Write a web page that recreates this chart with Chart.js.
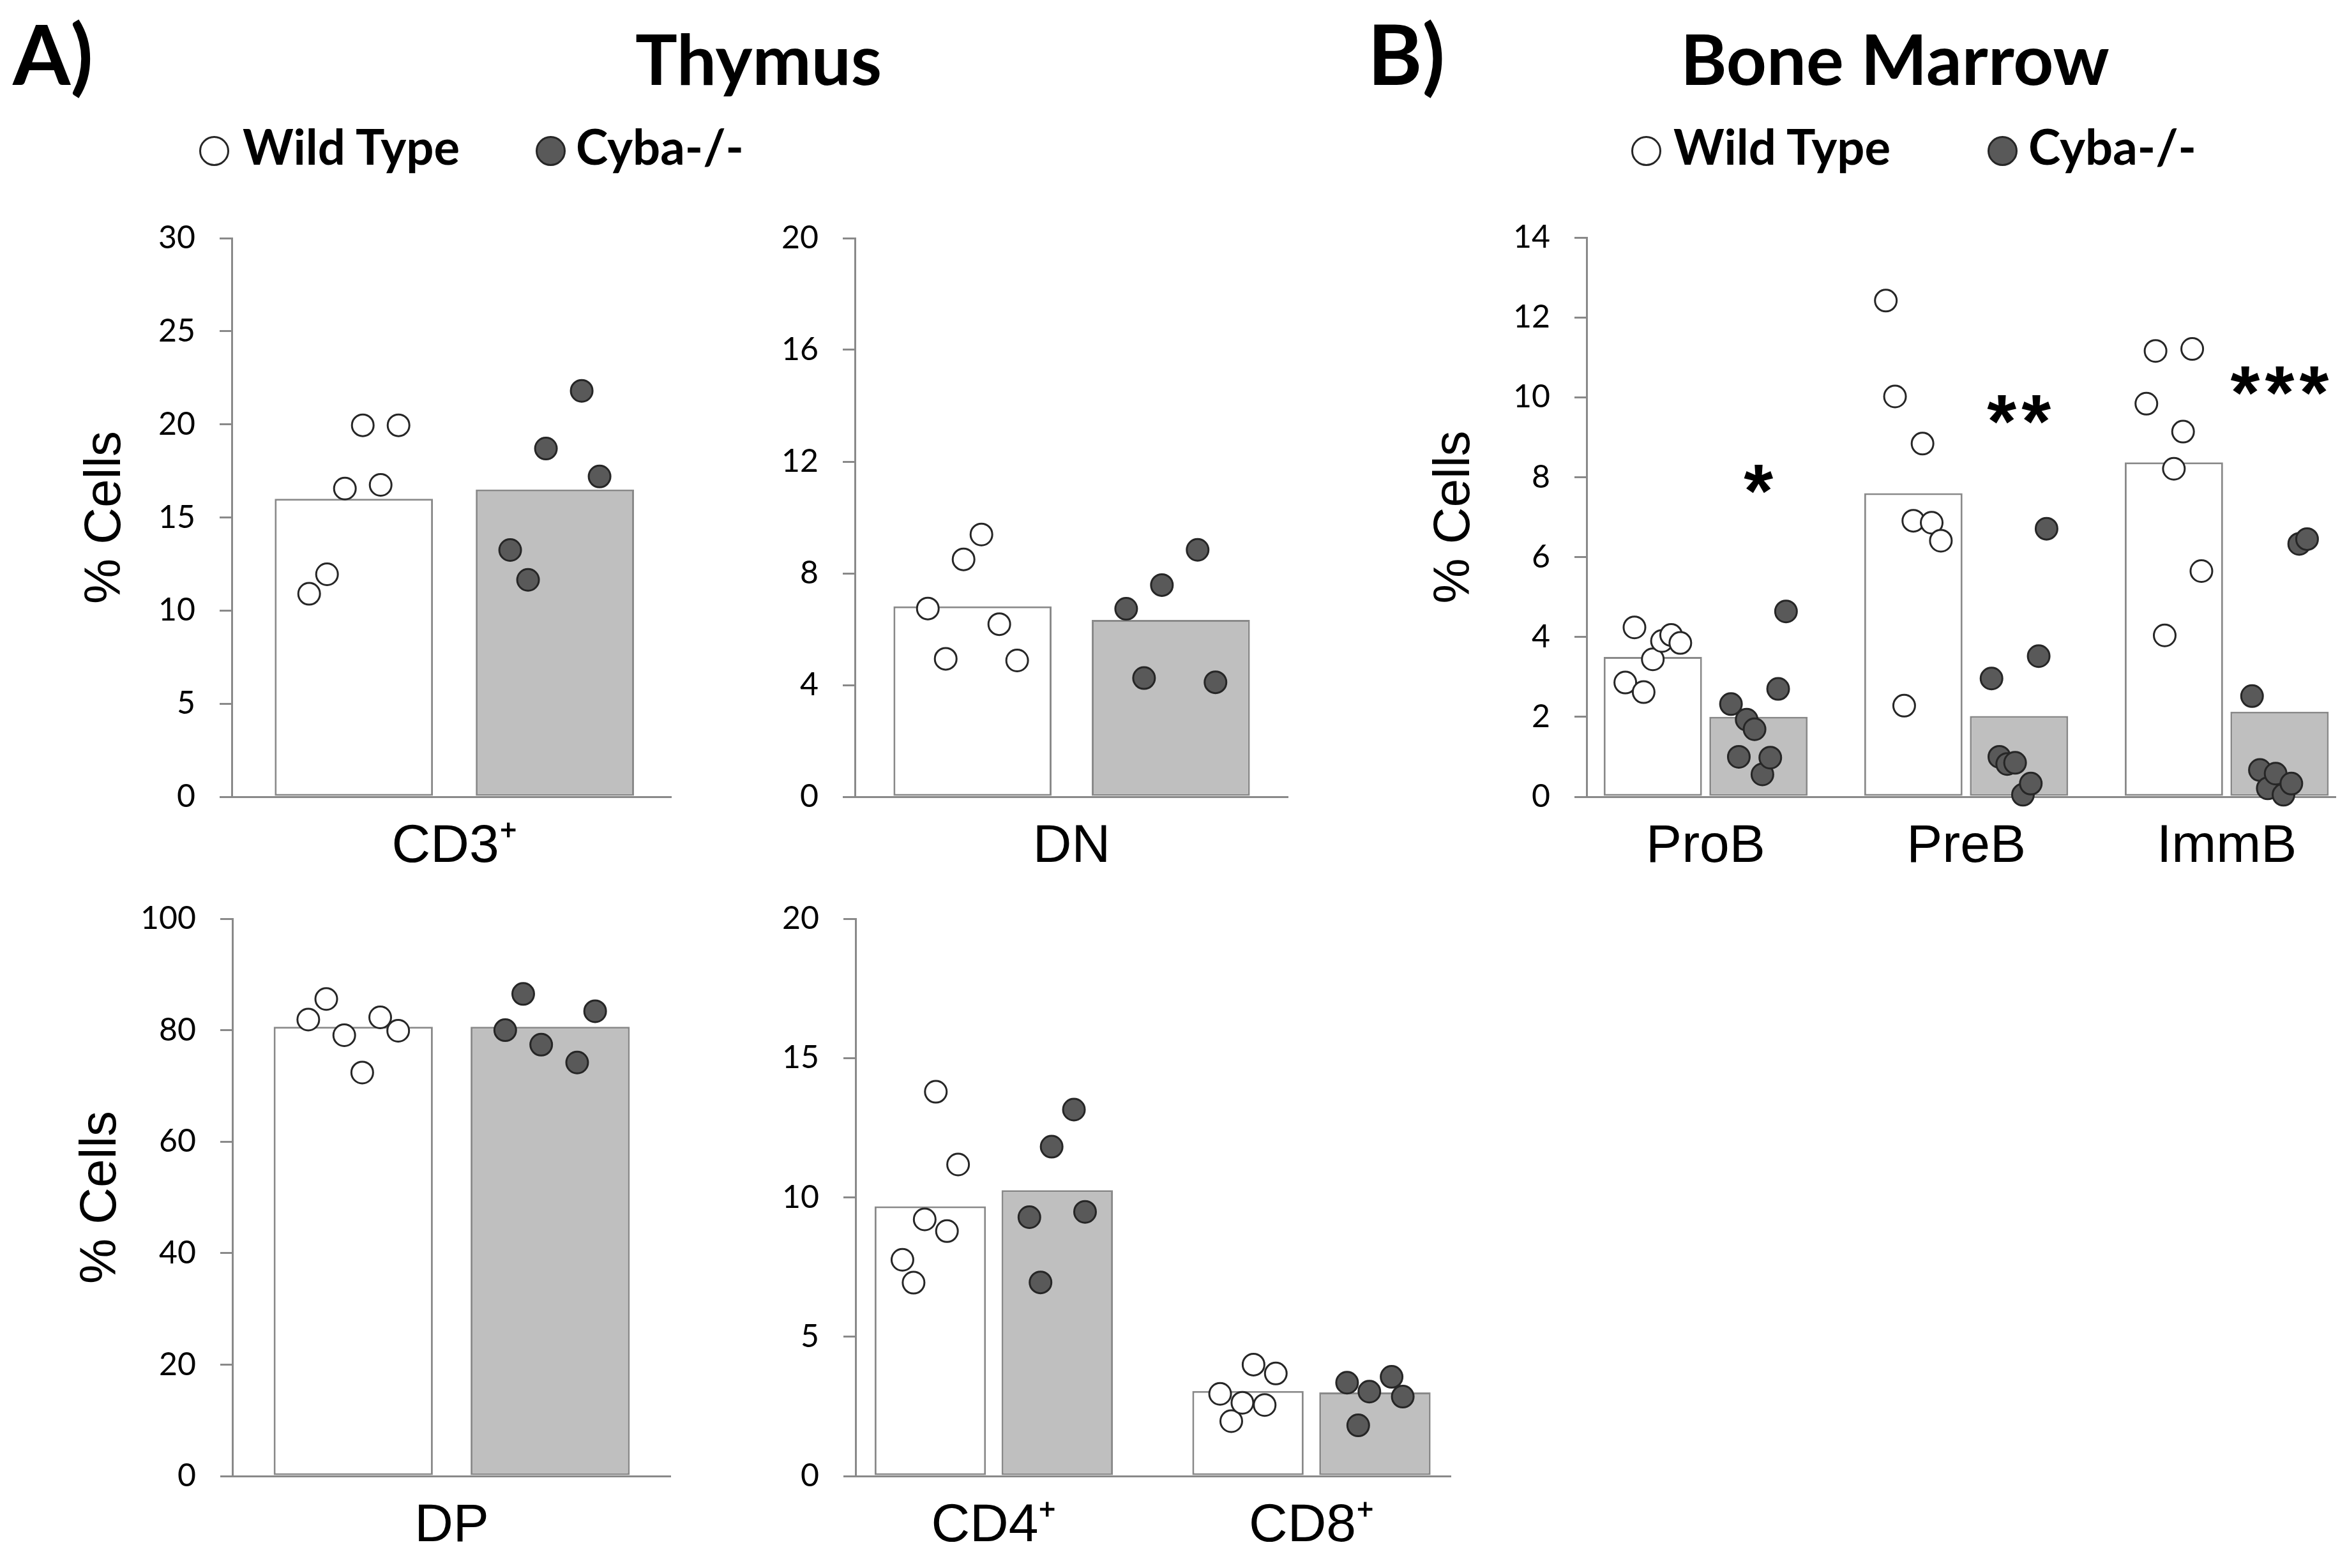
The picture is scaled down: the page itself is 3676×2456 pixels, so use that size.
<!DOCTYPE html>
<html>
<head>
<meta charset="utf-8">
<title>Thymus / Bone Marrow</title>
<script src="https://cdn.jsdelivr.net/npm/chart.js@4.4.1/dist/chart.umd.min.js"></script>
<style>
  html, body { margin: 0; padding: 0; background: #ffffff; }
  #page { position: relative; width: 3676px; height: 2456px; overflow: hidden; background: #ffffff; }
  canvas { position: absolute; }
  .head { position: absolute; font-family: Lato, "Open Sans", sans-serif; font-weight: bold; line-height: 1; color: #000; white-space: nowrap; }
  .title { transform: translateX(-50%); font-size: 110px; top: 35px; }
  .legend { font-size: 76px; top: 191px; }
  .dot { position: absolute; top: 213px; width: 41px; height: 41px; border-radius: 50%; border: 3px solid #262626; box-sizing: content-box; }
</style>
</head>
<body>
<div id="page">
  <div class="head" style="left:20px; top:18px; font-size:130px;">A)</div>
  <div class="head title" style="left:1188px;">Thymus</div>
  <div class="head" style="left:2142px; top:18px; font-size:130px;">B)</div>
  <div class="head title" style="left:2968px;">Bone Marrow</div>

  <span class="dot" style="left:312px; background:#ffffff;"></span>
  <div class="head legend" style="left:380px;">Wild Type</div>
  <span class="dot" style="left:839px; background:#595959;"></span>
  <div class="head legend" style="left:902px;">Cyba-/-</div>

  <span class="dot" style="left:2555px; background:#ffffff;"></span>
  <div class="head legend" style="left:2621px;">Wild Type</div>
  <span class="dot" style="left:3113px; background:#595959;"></span>
  <div class="head legend" style="left:3177px;">Cyba-/-</div>

  <canvas id="cd3Chart" width="952" height="1083" style="left:100px; top:305px;"></canvas>
  <canvas id="dnChart" width="818" height="1083" style="left:1200px; top:305px;"></canvas>
  <canvas id="dpChart" width="951" height="1081" style="left:100px; top:1371px;"></canvas>
  <canvas id="cd48Chart" width="1073" height="1081" style="left:1200px; top:1371px;"></canvas>
  <canvas id="bmChart" width="1459" height="1084" style="left:2200px; top:304px;"></canvas>
</div>

<script>
// ---- data (% cells) ----
// one row of points per category; null = no animal in that slot

// Thymus, CD3+
const cd3Categories = ['CD3⁺'];
const cd3WildTypeBar = [16.0];
const cd3CybaBar = [16.5];
const cd3WildTypePoints = [[10.9, 11.95, 16.55, 19.95, 16.75, 19.95]];
const cd3CybaPoints = [[13.25, 11.65, 18.7, null, 21.8, 17.2]];
const cd3Ticks = [0, 5, 10, 15, 20, 25, 30];

// Thymus, DN
const dnCategories = ['DN'];
const dnWildTypeBar = [6.82];
const dnCybaBar = [6.33];
const dnWildTypePoints = [[6.74, 4.94, 8.5, 9.39, 6.18, 4.88]];
const dnCybaPoints = [[6.73, 4.25, 7.58, null, 8.84, 4.1]];
const dnTicks = [0, 4, 8, 12, 16, 20];

// Thymus, DP
const dpCategories = ['DP'];
const dpWildTypeBar = [80.6];
const dpCybaBar = [80.6];
const dpWildTypePoints = [[81.9, 85.6, 79.1, 72.4, 82.3, 79.9]];
const dpCybaPoints = [[80.0, 86.5, 77.4, null, 74.2, 83.4]];
const dpTicks = [0, 20, 40, 60, 80, 100];

// Thymus, CD4+ / CD8+
const cd48Categories = ['CD4⁺', 'CD8⁺'];
const cd48WildTypeBar = [9.68, 3.05];
const cd48CybaBar = [10.26, 3.0];
const cd48WildTypePoints = [
  [7.76, 6.94, 9.21, 13.79, 8.79, 11.18],
  [2.95, 1.97, 2.63, 4.0, 2.55, 3.68]
];
const cd48CybaPoints = [
  [9.29, 6.95, 11.82, null, 13.15, 9.48],
  [3.35, 1.82, 3.03, null, 3.56, 2.85]
];
const cd48Ticks = [0, 5, 10, 15, 20];

// Bone marrow
const bmCategories = ['ProB', 'PreB', 'ImmB'];
const bmWildTypeBar = [3.5, 7.6, 8.37];
const bmCybaBar = [2.0, 2.02, 2.13];
const bmWildTypePoints = [
  [2.86, 4.24, 2.62, 3.44, 3.9, 4.05, 3.85],
  [12.42, 10.02, 2.28, 6.91, 8.84, 6.86, 6.41],
  [9.84, 11.16, 4.04, 8.21, 9.14, 11.21, 5.65]
];
const bmCybaPoints = [
  [2.32, 1.0, 1.93, 1.69, 0.56, 0.98, 2.7, 4.64],
  [2.96, 1.0, 0.82, 0.85, 0.05, 0.33, 3.52, 6.71],
  [2.52, 0.67, 0.21, 0.58, 0.05, 0.33, 6.33, 6.45]
];
const bmTicks = [0, 2, 4, 6, 8, 10, 12, 14];
const bmStars = ['*', '**', '***'];
const bmStarLevels = [7.95, 9.7, 10.42];

// ---- styling ----
const axisGray = '#898989';
const outline = '#262626';
const koFill = '#595959';
const barGray = '#bfbfbf';
const tickFont = { family: 'Lato', size: 50 };
const labelFont = { family: 'Liberation Sans', size: 84 };
const starPitch = 54;

// Centre of the wild-type (group 0) or Cyba (group 1) bar of category c,
// in units of the linear x axis (one unit per category); sep = distance
// between the two bar centres
function groupCentre(c, group, sep) {
  return c + (group - 0.5) * sep;
}

function barPoints(values, group, sep) {
  return values.map((v, c) => ({ x: groupCentre(c, group, sep), y: v }));
}

/**
 * Spread the dots of one bar evenly over part of the bar width.
 */
function jitter(rows, group, p) {
  const pts = [];
  rows.forEach((values, c) => {
    const centre = groupCentre(c, group, p.sep);
    const width = p.sep * p.barPct * p.spread;
    const n = values.length;
    values.forEach((v, j) => {
      if (v === null) return;
      pts.push({ x: centre + (j - (n - 1) / 2) * width / (n - 1), y: v });
    });
  });
  return pts;
}

const starPlugin = {
  id: 'stars',
  afterDatasetsDraw(chart) {
    const ctx = chart.ctx;
    const bars = chart.getDatasetMeta(1).data;
    const y = chart.scales.y;
    ctx.save();
    ctx.font = 'bold 118px "Liberation Sans"';
    ctx.fillStyle = '#000';
    ctx.textAlign = 'center';
    const m = ctx.measureText('*');
    const shift = (m.actualBoundingBoxAscent - m.actualBoundingBoxDescent) / 2;
    bmStars.forEach((s, i) => {
      const cy = y.getPixelForValue(bmStarLevels[i]) + shift;
      for (let k = 0; k < s.length; k++) {
        ctx.fillText('*', bars[i].x + (k - (s.length - 1) / 2) * starPitch, cy);
      }
    });
    ctx.restore();
  }
};

function barSet(label, values, group, fill, p) {
  return {
    label: label,
    data: barPoints(values, group, p.sep),
    grouped: false,
    backgroundColor: fill,
    borderColor: axisGray,
    borderWidth: 3,
    borderSkipped: false,
    categoryPercentage: 1,
    barPercentage: p.barPct,
    order: 2
  };
}

function scatterSet(label, points, fill) {
  return {
    type: 'scatter',
    label: label,
    data: points,
    backgroundColor: fill,
    borderColor: outline,
    borderWidth: 3,
    pointRadius: 17,
    clip: false,
    order: 1
  };
}

function buildPanel(id, p) {
  const canvas = document.getElementById(id);
  if (!canvas) {
    console.error(`Canvas ${id} not found`);
    return null;
  }
  const ticks = p.ticks;
  const cats = p.categories;
  const xMin = p.xMin !== undefined ? p.xMin : -0.5;
  const xMax = p.xMax !== undefined ? p.xMax : cats.length - 0.5;

  return new Chart(canvas, {
    type: 'bar',
    data: {
      datasets: [
        barSet('Wild Type', p.wildTypeBar, 0, '#ffffff', p),
        barSet('Cyba-/-', p.cybaBar, 1, barGray, p),
        scatterSet('Wild Type', jitter(p.wildTypePoints, 0, p), '#ffffff'),
        scatterSet('Cyba-/-', jitter(p.cybaPoints, 1, p), koFill)
      ]
    },
    options: {
      responsive: false,
      animation: false,
      devicePixelRatio: 1,
      // no extra room for the dots: the plot area has to fill the canvas
      layout: { autoPadding: false, padding: { top: 40, right: 0, bottom: 0, left: 0 } },
      plugins: {
        legend: { display: false },
        tooltip: { enabled: false }
      },
      scales: {
        // linear x axis, one unit per category, labelled with the category names
        x: {
          type: 'linear',
          offset: false,
          min: xMin,
          max: xMax,
          afterBuildTicks: s => { s.ticks = cats.map((c, i) => ({ value: i })); },
          grid: { display: false, drawTicks: false },
          border: { color: axisGray, width: 3 },
          ticks: {
            font: labelFont,
            color: '#000',
            padding: 28,
            maxRotation: 0,
            autoSkip: false,
            callback: v => cats[v]
          },
          afterFit: s => { s.height = 140; }
        },
        y: {
          min: ticks[0],
          max: ticks[ticks.length - 1],
          afterBuildTicks: s => { s.ticks = ticks.map(v => ({ value: v })); },
          grid: {
            drawOnChartArea: false,
            drawTicks: true,
            tickLength: 19,
            color: axisGray,
            lineWidth: 3
          },
          border: { color: axisGray, width: 3 },
          ticks: { font: tickFont, color: '#000', padding: 38 },
          title: {
            display: !!p.title,
            text: p.title || '',
            font: { family: 'Liberation Sans', size: 80 },
            color: '#000',
            padding: { top: p.titlePad || 0, bottom: 0 }
          },
          afterFit: s => { s.width = p.yWidth; }
        }
      }
    },
    plugins: p.plugins || []
  });
}

document.addEventListener('DOMContentLoaded', () => {
  buildPanel('cd3Chart', {
    categories: cd3Categories, wildTypeBar: cd3WildTypeBar, cybaBar: cd3CybaBar,
    wildTypePoints: cd3WildTypePoints, cybaPoints: cd3CybaPoints, ticks: cd3Ticks,
    sep: 0.457, barPct: 0.787, spread: 0.565, xMin: -0.506, xMax: 0.494,
    yWidth: 263, title: '% Cells', titlePad: 18
  });
  buildPanel('dnChart', {
    categories: dnCategories, wildTypeBar: dnWildTypeBar, cybaBar: dnCybaBar,
    wildTypePoints: dnWildTypePoints, cybaPoints: dnCybaPoints, ticks: dnTicks,
    sep: 0.4575, barPct: 0.797, spread: 0.565, yWidth: 139
  });
  buildPanel('dpChart', {
    categories: dpCategories, wildTypeBar: dpWildTypeBar, cybaBar: dpCybaBar,
    wildTypePoints: dpWildTypePoints, cybaPoints: dpCybaPoints, ticks: dpTicks,
    sep: 0.449, barPct: 0.808, spread: 0.565, yWidth: 264, title: '% Cells', titlePad: 11
  });
  buildPanel('cd48Chart', {
    categories: cd48Categories, wildTypeBar: cd48WildTypeBar, cybaBar: cd48CybaBar,
    wildTypePoints: cd48WildTypePoints, cybaPoints: cd48CybaPoints, ticks: cd48Ticks,
    sep: 0.3996, barPct: 0.877, spread: 0.50, xMin: -0.435, xMax: 1.44, yWidth: 140
  });
  buildPanel('bmChart', {
    categories: bmCategories, wildTypeBar: bmWildTypeBar, cybaBar: bmCybaBar,
    wildTypePoints: bmWildTypePoints, cybaPoints: bmCybaPoints, ticks: bmTicks,
    sep: 0.4056, barPct: 0.93, spread: 0.56, xMin: -0.457, xMax: 2.42,
    yWidth: 285, title: '% Cells', titlePad: 31,
    plugins: [starPlugin]
  });
});
</script>
</body>
</html>
